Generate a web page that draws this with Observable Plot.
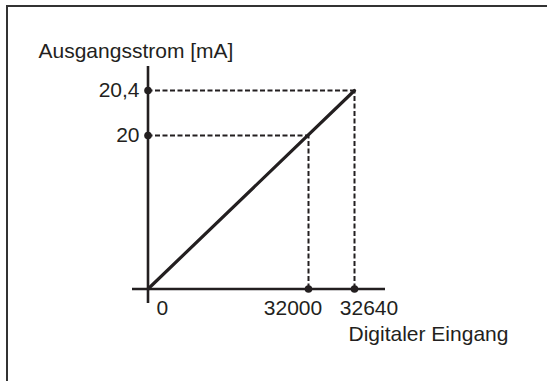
<!DOCTYPE html>
<html>
<head>
<meta charset="utf-8">
<script src="https://cdn.jsdelivr.net/npm/d3@7"></script>
<script src="https://cdn.jsdelivr.net/npm/@observablehq/plot@0.6"></script>
<style>
  html, body { margin: 0; padding: 0; background: #fff; }
  #wrap { position: relative; width: 547px; height: 381px; overflow: hidden; }
  #border { position: absolute; left: 6px; top: 5px; right: -10px; bottom: -10px;
            border-left: 2px solid #333; border-top: 2px solid #333; pointer-events: none; }
</style>
</head>
<body>
<div id="wrap"><div id="border"></div></div>
<script>
// Schematic (not to scale) characteristic: digital input -> output current
const xTicks = [0, 32000, 32640];
const xTickLabels = ["0", "32000", "32640"];
const yTicks = [20, 20.4];
const yTickLabels = ["20", "20,4"];
const lineX = [0, 32640];
const lineY = [0, 20.4];
const refX = [32000, 32640];
const refY = [20, 20.4];
const yTitle = "Ausgangsstrom [mA]";
const xTitle = "Digitaler Eingang";

const ink = "#231f20";
const font = "'Liberation Sans', Arial, Helvetica, sans-serif";
const fs = 21;

const linePts = lineX.map((x, i) => ({x, y: lineY[i]}));
const refs = refX.map((x, i) => ({x, y: refY[i]}));
const xt = xTicks.map((v, i) => ({v, label: xTickLabels[i]}));
const yt = yTicks.map((v, i) => ({v, label: yTickLabels[i]}));

const chart = Plot.plot({
  width: 547,
  height: 381,
  marginLeft: 132,
  marginRight: 162,
  marginTop: 66,
  marginBottom: 78,
  style: {fontFamily: font, fontSize: fs + "px", background: "transparent", color: ink},
  x: {type: "linear", domain: [0, 32000, 32640], range: [147.5, 308, 354], axis: null},
  y: {type: "linear", domain: [0, 20, 20.4], range: [288.5, 135, 90], axis: null},
  marks: [
    // dashed guide lines
    Plot.ruleY(refs, {y: "y", x1: 0, x2: "x", stroke: ink, strokeWidth: 2, strokeDasharray: "5,2.5"}),
    Plot.ruleX(refs, {x: "x", y1: 0, y2: "y", stroke: ink, strokeWidth: 2, strokeDasharray: "5,2.5"}),
    // axes lines (span the frame)
    Plot.ruleY([0], {stroke: ink, strokeWidth: 2.6}),
    Plot.ruleX([0], {stroke: ink, strokeWidth: 2.6}),
    // characteristic line
    Plot.line(linePts, {x: "x", y: "y", stroke: ink, strokeWidth: 3.2}),
    // dots on axes
    Plot.dot(refs, {x: 0, y: "y", r: 3.8, fill: ink, stroke: "none"}),
    Plot.dot(refs, {x: "x", y: 0, r: 3.8, fill: ink, stroke: "none"}),
    // y tick labels
    Plot.text(yt, {x: 0, y: "v", text: "label", textAnchor: "end", dx: -8.5, fill: ink, fontSize: fs}),
    // x tick labels
    Plot.text([xt[0]], {x: "v", y: 0, text: "label", textAnchor: "start", lineAnchor: "top", dx: 8.5, dy: 11.5, fill: ink, fontSize: fs}),
    Plot.text([xt[1]], {x: "v", y: 0, text: "label", textAnchor: "middle", lineAnchor: "top", dx: -15.5, dy: 11.5, fill: ink, fontSize: fs}),
    Plot.text([xt[2]], {x: "v", y: 0, text: "label", textAnchor: "middle", lineAnchor: "top", dx: 14.5, dy: 11.5, fill: ink, fontSize: fs}),
    // axis titles
    Plot.text([yTitle], {frameAnchor: "top-left", text: d => d, textAnchor: "start", lineAnchor: "bottom", dx: -94, dy: -9, fill: ink, fontSize: fs}),
    Plot.text([xTitle], {frameAnchor: "bottom-right", text: d => d, textAnchor: "start", lineAnchor: "bottom", dx: -37, dy: 37, fill: ink, fontSize: fs})
  ]
});
chart.style.position = "absolute";
chart.style.left = "0px";
chart.style.top = "0px";
document.getElementById("wrap").prepend(chart);
</script>
</body>
</html>
